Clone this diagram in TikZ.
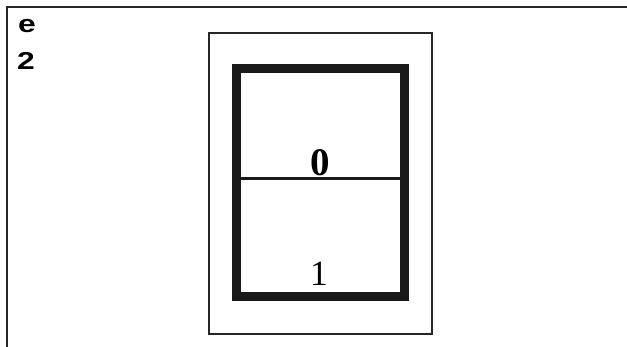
\documentclass[tikz,border=0pt]{standalone}
\usepackage{fontspec}
\setmainfont{Liberation Serif}
\newfontfamily\labfont{Liberation Sans}
\newcommand{\widelab}[1]{\scalebox{1.3}[1]{#1}}
\begin{document}
\begin{tikzpicture}[x=1pt,y=-1pt,
  framestyle/.style={line width=1.5pt,black!85},
  outerbox/.style={line width=1.5pt,black!85},
  thickbox/.style={line width=9pt,black!90},
  midline/.style={line width=2.6pt,black!90},
  lab/.style={inner sep=0pt,anchor=base west,font=\labfont\bfseries\fontsize{24.5}{24.5}\selectfont},
  digit/.style={inner sep=0pt,anchor=base}]
\useasboundingbox (0,0) rectangle (627,347);
\coordinate (fb) at (7,347);
\coordinate (fc) at (7,7);
\coordinate (fr) at (627,7);
\draw[framestyle] (fb) -- (fc) -- (fr);
\node[lab] (e) at (18,33) {\widelab{e}};
\node[lab] (two) at (17,70) {\widelab{2}};
\node[draw,outerbox,inner sep=0pt,minimum width=223pt,minimum height=301pt] (outer) at (320.5,183.5) {};
\node[draw,thickbox,inner sep=0pt,minimum width=168pt,minimum height=228pt] (inner) at (320.5,182.5) {};
\coordinate (ml) at (241,178.5);
\coordinate (mr) at (400,178.5);
\draw[midline] (ml) -- (mr);
\node[digit,font=\bfseries\fontsize{39}{39}\selectfont] (zero) at (320,176) {0};
\node[digit,font=\fontsize{35.5}{35.5}\selectfont] (one) at (319,286) {1};
\end{tikzpicture}
\end{document}
